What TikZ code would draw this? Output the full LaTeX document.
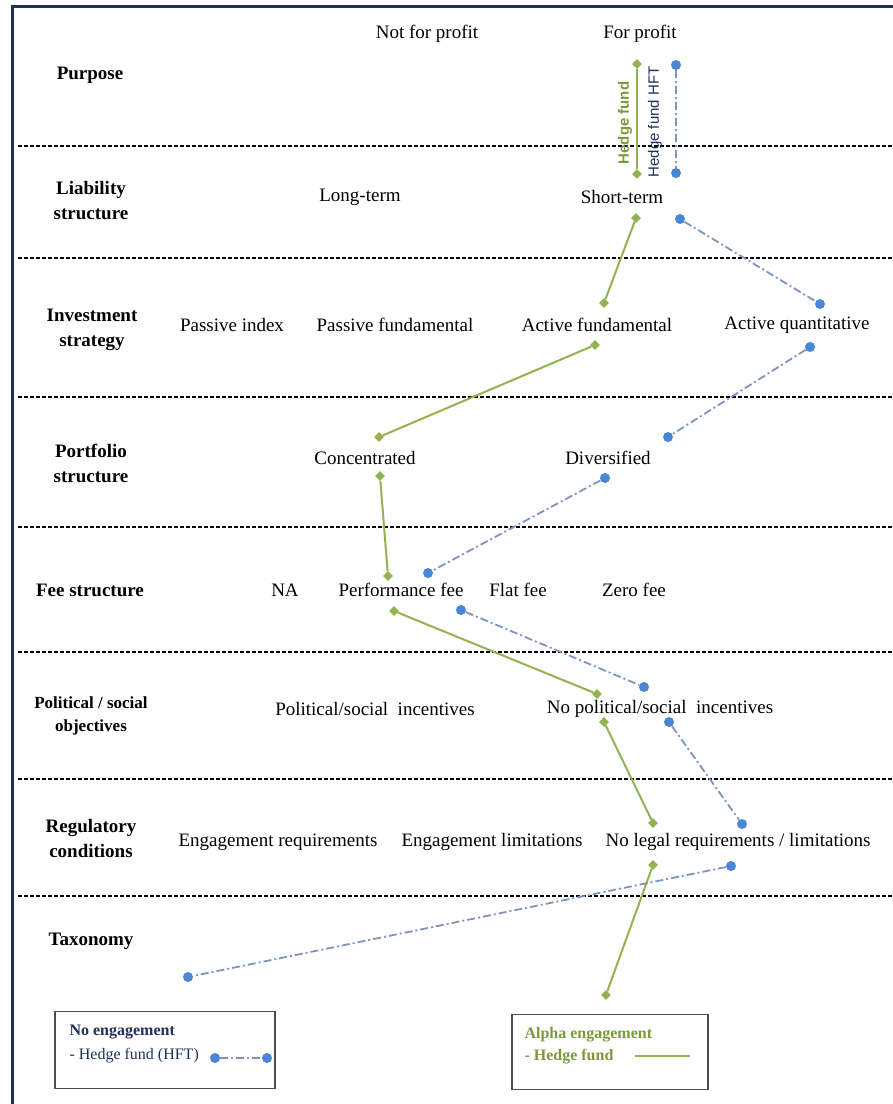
\documentclass[tikz,border=0pt]{standalone}
\usepackage{fontspec}
\setmainfont{Liberation Serif}
\setsansfont{Liberation Sans}
\usepackage{tikz}
\usetikzlibrary{shapes.geometric,arrows.meta}

\definecolor{hfgreen}{HTML}{92B350}
\definecolor{hftext}{HTML}{7A9A3A}
\definecolor{hftblue}{HTML}{4A86D6}
\definecolor{hftline}{HTML}{7F94BC}
\definecolor{navy}{HTML}{1F3060}

\begin{document}
\begin{tikzpicture}[x=1pt,y=-1pt,
    item/.style={font=\fontsize{19}{24}\selectfont},
    rowlabel/.style={font=\fontsize{19}{25}\selectfont\bfseries, align=center},
    sepline/.style={dash pattern=on 4pt off 2pt, line width=1.3pt},
    gmark/.style={diamond, fill=hfgreen, inner sep=0pt, minimum size=10pt},
    bmark/.style={circle, fill=hftblue, inner sep=0pt, minimum size=10pt},
    gline/.style={hfgreen, line width=2pt},
    bline/.style={hftline, line width=1.8pt, dash pattern=on 8pt off 3pt on 2pt off 3pt},
    legtext/.style={anchor=west, font=\fontsize{16}{18}\selectfont}]
        \useasboundingbox (0,0) rectangle (893,1104);
        \draw[navy, line width=3pt] (12,1104) -- (12,6) -- (893,6);

        % row separators
        \draw[sepline] (18,146) -- (893,146);
        \draw[sepline] (18,258) -- (893,258);
        \draw[sepline] (18,397) -- (893,397);
        \draw[sepline] (18,527) -- (893,527);
        \draw[sepline] (18,652) -- (893,652);
        \draw[sepline] (18,779) -- (893,779);
        \draw[sepline] (18,896) -- (893,896);

        % row labels
        \node[rowlabel] (purpose) at (90,75) {Purpose};
        \node[rowlabel] (liability) at (91,201) {Liability\\structure};
        \node[rowlabel] (strategy) at (92,330) {Investment\\strategy};
        \node[rowlabel] (portfolio) at (91,463) {Portfolio\\structure};
        \node[rowlabel] (fee) at (90,590) {Fee structure};
        \node[rowlabel, font=\fontsize{17}{23}\selectfont\bfseries] (political) at (91,716) {Political / social\\objectives};
        \node[rowlabel] (regulatory) at (91,838) {Regulatory\\conditions};
        \node[rowlabel] (taxonomy) at (91,941) {Taxonomy};

        % items
        \node[item] (notprofit) at (427,34) {Not for profit};
        \node[item] (forprofit) at (640,34) {For profit};
        \node[item] (longterm) at (360,197) {Long-term};
        \node[item] (shortterm) at (622,197) {Short-term};
        \node[item] (passindex) at (232,325) {Passive index};
        \node[item] (passfund) at (395,325) {Passive fundamental};
        \node[item] (actfund) at (597,325) {Active fundamental};
        \node[item] (actquant) at (797,325) {Active quantitative};
        \node[item] (concentrated) at (365,458) {Concentrated};
        \node[item] (diversified) at (608,458) {Diversified};
        \node[item] (na) at (285,590) {NA};
        \node[item] (perffee) at (401,590) {Performance fee};
        \node[item] (flatfee) at (518,590) {Flat fee};
        \node[item] (zerofee) at (634,590) {Zero fee};
        \node[item] (polinc) at (375,709) {Political/social\ \ incentives};
        \node[item] (nopolinc) at (660,709) {No political/social\ \ incentives};
        \node[item] (engreq) at (278,842) {Engagement requirements};
        \node[item] (englim) at (492,842) {Engagement limitations};
        \node[item] (nolegal) at (738,842) {No legal requirements / limitations};

        % hedge fund path
        \node[gmark] (g1) at (637,64) {};
        \node[gmark] (g2) at (637,174) {};
        \node[gmark] (g3) at (636,218) {};
        \node[gmark] (g4) at (604,303) {};
        \node[gmark] (g5) at (595,345) {};
        \node[gmark] (g6) at (379,437) {};
        \node[gmark] (g7) at (380,476) {};
        \node[gmark] (g8) at (388,576) {};
        \node[gmark] (g9) at (394,611) {};
        \node[gmark] (g10) at (597,694) {};
        \node[gmark] (g11) at (604,722) {};
        \node[gmark] (g12) at (653,823) {};
        \node[gmark] (g13) at (653,865) {};
        \node[gmark] (g14) at (606,995) {};
        \draw[gline] (g1) -- (g2);
        \draw[gline] (g3) -- (g4);
        \draw[gline] (g5) -- (g6);
        \draw[gline] (g7) -- (g8);
        \draw[gline] (g9) -- (g10);
        \draw[gline] (g11) -- (g12);
        \draw[gline] (g13) -- (g14);
        \node[rotate=90, text=hftext, font=\sffamily\bfseries\fontsize{15}{17}\selectfont] (hflabel) at (625,123) {Hedge fund};

        % hedge fund HFT path
        \node[bmark] (b1) at (676,65) {};
        \node[bmark] (b2) at (676,173) {};
        \node[bmark] (b3) at (680,219) {};
        \node[bmark] (b4) at (820,304) {};
        \node[bmark] (b5) at (810,347) {};
        \node[bmark] (b6) at (668,437) {};
        \node[bmark] (b7) at (605,478) {};
        \node[bmark] (b8) at (428,573) {};
        \node[bmark] (b9) at (461,610) {};
        \node[bmark] (b10) at (644,687) {};
        \node[bmark] (b11) at (669,722) {};
        \node[bmark] (b12) at (742,824) {};
        \node[bmark] (b13) at (731,866) {};
        \node[bmark] (b14) at (188,977) {};
        \draw[bline] (b1) -- (b2);
        \draw[bline] (b3) -- (b4);
        \draw[bline] (b5) -- (b6);
        \draw[bline] (b7) -- (b8);
        \draw[bline] (b9) -- (b10);
        \draw[bline] (b11) -- (b12);
        \draw[bline] (b13) -- (b14);
        \node[rotate=90, text=navy, font=\sffamily\fontsize{15}{17}\selectfont] (hftlabel) at (655,122) {Hedge fund HFT};

        % legends
        \node[draw=black!70, line width=1.5pt, minimum width=220pt, minimum height=77pt] (legnone) at (165,1050) {};
        \node[legtext, text=navy, font=\fontsize{16}{18}\selectfont\bfseries] (nonetitle) at (66,1032) {No engagement};
        \node[legtext, text=navy] (noneitem) at (66,1056) {- Hedge fund (HFT)};
        \node[bmark] (lb1) at (215,1058) {};
        \node[bmark] (lb2) at (267,1058) {};
        \draw[bline] (lb1) -- (lb2);

        \node[draw=black!70, line width=1.5pt, minimum width=196pt, minimum height=75pt] (legalpha) at (610,1052) {};
        \node[legtext, text=hftext, font=\fontsize{16}{18}\selectfont\bfseries] (alphatitle) at (521,1035) {Alpha engagement};
        \node[legtext, text=hftext, font=\fontsize{16}{18}\selectfont\bfseries] (alphaitem) at (521,1057) {- Hedge fund};
        \coordinate (la1) at (635,1056);
        \coordinate (la2) at (690,1056);
        \draw[hfgreen, line width=1.5pt] (la1) -- (la2);
    \end{tikzpicture}
\end{document}
